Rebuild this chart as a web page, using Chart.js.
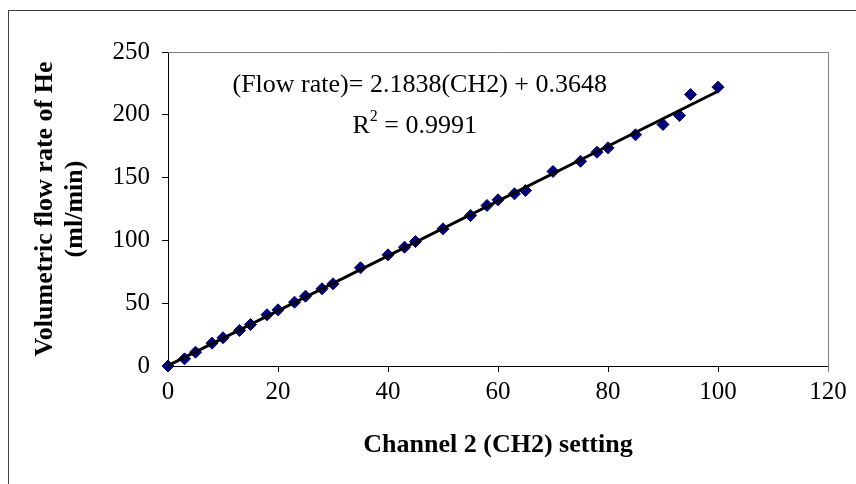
<!DOCTYPE html>
<html>
<head>
<meta charset="utf-8">
<script src="https://cdn.jsdelivr.net/npm/chart.js@4.4.1/dist/chart.umd.min.js"></script>
<style>
  html, body { margin: 0; padding: 0; background: #fff; }
  #wrap { width: 856px; height: 484px; position: relative; }
</style>
</head>
<body>
<div id="wrap"><canvas id="c" width="856" height="484"></canvas></div>
<script>
// ---- data ----
const channelSetting = [0, 3, 5, 8, 10, 13, 15, 18, 20, 23, 25, 28, 30, 35, 40, 43, 45, 50, 55, 58, 60, 63, 65, 70, 75, 78, 80, 85, 90, 93, 95, 100];
const flowRate = [0, 5.7, 11, 18.2, 22.5, 28.3, 33, 40.8, 44.7, 50.8, 55.6, 61.5, 65.4, 78.2, 88.5, 94.6, 99.1, 109.2, 119.8, 127.8, 132.3, 137.1, 139.7, 154.9, 163, 170.2, 173.7, 184.1, 192.3, 199.4, 216.2, 222];
const trendX = [0, 100];
const trendY = [0.36, 218.75];
const xTicks = [0, 20, 40, 60, 80, 100, 120];
const yTicks = [0, 50, 100, 150, 200, 250];
const equationText = '(Flow rate)= 2.1838(CH2) + 0.3648';
const r2Value = '0.9991';
const xTitle = 'Channel 2 (CH2) setting';
const yTitle = ['Volumetric flow rate of He', '(ml/min)'];

const FONT = "'Liberation Serif', 'Times New Roman', serif";

const pointsData = channelSetting.map((x, i) => ({ x: x, y: flowRate[i] }));
const trendData = trendX.map((x, i) => ({ x: x, y: trendY[i] }));

const framePlugin = {
  id: 'frame',
  beforeDraw(chart) {
    const ctx = chart.ctx;
    ctx.save();
    ctx.fillStyle = '#fff';
    ctx.fillRect(0, 0, chart.width, chart.height);
    ctx.strokeStyle = '#404040';
    ctx.lineWidth = 1;
    ctx.strokeRect(8.5, 10.5, 1000, 1000);
    ctx.restore();
  },
  beforeDatasetsDraw(chart) {
    const { ctx, chartArea: a } = chart;
    ctx.save();
    ctx.strokeStyle = '#808080';
    ctx.lineWidth = 1;
    ctx.beginPath();
    ctx.moveTo(a.left, Math.round(a.top) + 0.5);
    ctx.lineTo(Math.round(a.right) + 0.5, Math.round(a.top) + 0.5);
    ctx.lineTo(Math.round(a.right) + 0.5, a.bottom + 6);
    ctx.stroke();
    ctx.restore();
  },
  afterDraw(chart) {
    const { ctx, chartArea: a } = chart;
    ctx.save();
    ctx.fillStyle = '#000';
    ctx.textBaseline = 'alphabetic';
    // equation line (right edge near x = 607)
    ctx.font = '26px ' + FONT;
    ctx.textAlign = 'right';
    ctx.fillText(equationText, a.left + 439, 92);
    // R^2 line (right edge near x = 477)
    const part1 = 'R';
    const part3 = ' = ' + r2Value;
    ctx.font = '26px ' + FONT;
    const w1 = ctx.measureText(part1).width;
    const w3 = ctx.measureText(part3).width;
    ctx.font = '16px ' + FONT;
    const w2 = ctx.measureText('2').width;
    const total = w1 + w2 + w3;
    let x = a.left + 309 - total;
    const by = 133;
    ctx.textAlign = 'left';
    ctx.font = '26px ' + FONT;
    ctx.fillText(part1, x, by);
    x += w1;
    ctx.font = '16px ' + FONT;
    ctx.fillText('2', x, by - 12);
    x += w2;
    ctx.font = '26px ' + FONT;
    ctx.fillText(part3, x, by);
    ctx.restore();
  }
};

new Chart(document.getElementById('c'), {
  type: 'scatter',
  data: {
    datasets: [
      {
        label: 'Trend',
        type: 'line',
        data: trendData,
        borderColor: '#000',
        borderWidth: 3,
        pointRadius: 0,
        fill: false,
        clip: false,
        order: 0
      },
      {
        label: 'Flow',
        data: pointsData,
        pointStyle: 'rectRot',
        pointRadius: 6,
        pointHoverRadius: 6,
        backgroundColor: '#000080',
        borderColor: '#000080',
        borderWidth: 1,
        clip: false,
        order: 1
      }
    ]
  },
  plugins: [framePlugin],
  options: {
    responsive: false,
    animation: false,
    events: [],
    layout: { padding: { left: 8, top: 52, right: 28, bottom: 0 } },
    plugins: { legend: { display: false }, tooltip: { enabled: false } },
    scales: {
      x: {
        type: 'linear',
        min: 0, max: 120,
        afterBuildTicks(s) { s.ticks = xTicks.map(v => ({ value: v })); },
        afterFit(s) { s.height = 118; s.paddingLeft = 0; s.paddingRight = 0; },
        border: { display: true, color: '#000', width: 1 },
        grid: { display: true, drawOnChartArea: false, drawTicks: true, tickLength: 6, color: '#000', tickColor: '#000' },
        ticks: { color: '#000', font: { family: FONT, size: 25 }, padding: 5, maxRotation: 0 },
        title: { display: true, text: xTitle, color: '#000', font: { family: FONT, size: 26, weight: 'bold' }, padding: { top: 0, bottom: 23 } }
      },
      y: {
        type: 'linear',
        min: 0, max: 250,
        afterBuildTicks(s) { s.ticks = yTicks.map(v => ({ value: v })); },
        afterFit(s) { s.width = 160; s.paddingTop = 0; s.paddingBottom = 0; },
        border: { display: true, color: '#000', width: 1 },
        grid: { display: true, drawOnChartArea: false, drawTicks: true, tickLength: 6, color: '#000', tickColor: '#000' },
        ticks: { color: '#000', font: { family: FONT, size: 25 }, padding: 12 },
        title: { display: true, text: yTitle, color: '#000', font: { family: FONT, size: 26, weight: 'bold', lineHeight: 1.15 }, padding: { top: 22, bottom: 0 } }
      }
    }
  }
});
</script>
</body>
</html>
